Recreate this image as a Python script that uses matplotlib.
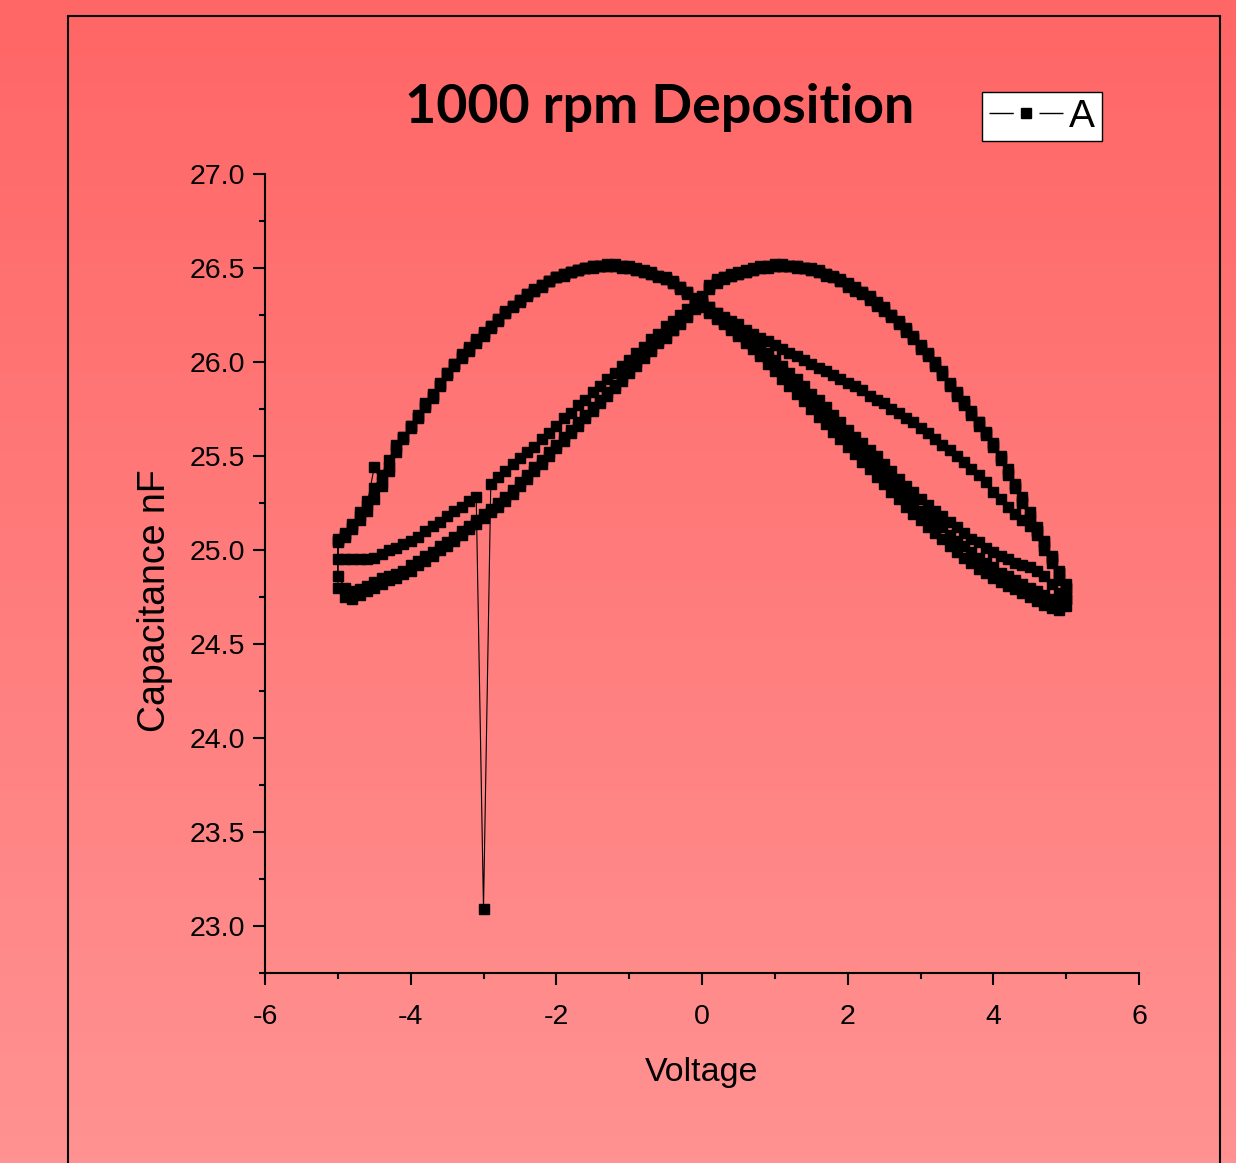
import matplotlib
matplotlib.use('Agg')
import matplotlib.pyplot as plt
from matplotlib.patches import Rectangle
from matplotlib.lines import Line2D
from matplotlib.ticker import MultipleLocator, FormatStrFormatter
import numpy as np

plt.rcParams['font.family'] = 'Liberation Sans'
plt.rcParams['axes.unicode_minus'] = False

# sweep voltages, -5 V .. +5 V in 0.1 V steps
volts = [-5.0, -4.9, -4.8, -4.7, -4.6, -4.5, -4.4, -4.3, -4.2, -4.1,
         -4.0, -3.9, -3.8, -3.7, -3.6, -3.5, -3.4, -3.3, -3.2, -3.1,
         -3.0, -2.9, -2.8, -2.7, -2.6, -2.5, -2.4, -2.3, -2.2, -2.1,
         -2.0, -1.9, -1.8, -1.7, -1.6, -1.5, -1.4, -1.3, -1.2, -1.1,
         -1.0, -0.9, -0.8, -0.7, -0.6, -0.5, -0.4, -0.3, -0.2, -0.1,
         0.0, 0.1, 0.2, 0.3, 0.4, 0.5, 0.6, 0.7, 0.8, 0.9,
         1.0, 1.1, 1.2, 1.3, 1.4, 1.5, 1.6, 1.7, 1.8, 1.9,
         2.0, 2.1, 2.2, 2.3, 2.4, 2.5, 2.6, 2.7, 2.8, 2.9,
         3.0, 3.1, 3.2, 3.3, 3.4, 3.5, 3.6, 3.7, 3.8, 3.9,
         4.0, 4.1, 4.2, 4.3, 4.4, 4.5, 4.6, 4.7, 4.8, 4.9, 5.0]

# first sweep 0 -> +5 V
cap_s0 = [26.31, 26.29, 26.26, 26.24, 26.22, 26.20, 26.17, 26.15, 26.13, 26.11,
          26.09, 26.07, 26.05, 26.03, 26.01, 25.99, 25.97, 25.95, 25.93, 25.91,
          25.89, 25.87, 25.85, 25.82, 25.80, 25.78, 25.75, 25.73, 25.70, 25.68,
          25.65, 25.62, 25.59, 25.56, 25.53, 25.50, 25.47, 25.43, 25.40, 25.36,
          25.31, 25.27, 25.23, 25.19, 25.16, 25.13, 25.10, 25.04, 24.96, 24.88, 24.80]

# reverse sweeps (+5 -> -5): low branch 5.0 .. -0.1, then arc -0.2 .. -5.0
rev_low_1 = [24.76, 24.73, 24.74, 24.76, 24.78, 24.80, 24.82, 24.84, 24.86, 24.88,
             24.91, 24.93, 24.96, 24.99, 25.02, 25.05, 25.08, 25.12, 25.15, 25.18,
             25.21, 25.25, 25.28, 25.32, 25.36, 25.40, 25.44, 25.48, 25.52, 25.55,
             25.59, 25.63, 25.67, 25.71, 25.75, 25.79, 25.83, 25.87, 25.91, 25.95,
             25.98, 26.02, 26.05, 26.09, 26.12, 26.15, 26.18, 26.21, 26.24, 26.27,
             26.30, 26.33]
rev_arc_1 = [26.37, 26.40, 26.42, 26.44, 26.46, 26.47, 26.48, 26.49, 26.50, 26.51,
             26.51, 26.51, 26.51, 26.51, 26.50, 26.49, 26.48, 26.47, 26.45, 26.43,
             26.41, 26.38, 26.36, 26.33, 26.30, 26.26, 26.23, 26.19, 26.15, 26.11,
             26.07, 26.03, 25.99, 25.94, 25.88, 25.82, 25.77, 25.71, 25.66, 25.60,
             25.54, 25.44, 25.36, 25.44, 25.24, 25.18, 25.12, 25.08, 25.05]

rev_low_2 = [24.74, 24.77, 24.82, 24.86, 24.89, 24.91, 24.92, 24.93, 24.95, 24.97,
             24.99, 25.01, 25.04, 25.06, 25.09, 25.12, 25.15, 25.18, 25.21, 25.24,
             25.27, 25.31, 25.34, 25.38, 25.42, 25.46, 25.50, 25.53, 25.57, 25.60,
             25.64, 25.68, 25.72, 25.76, 25.80, 25.83, 25.87, 25.91, 25.94, 25.98,
             26.01, 26.05, 26.08, 26.11, 26.14, 26.17, 26.20, 26.23, 26.26, 26.29,
             26.31, 26.34]
rev_arc_2 = [26.36, 26.39, 26.42, 26.44, 26.45, 26.47, 26.48, 26.49, 26.50, 26.50,
             26.51, 26.51, 26.51, 26.50, 26.50, 26.49, 26.48, 26.46, 26.45, 26.43,
             26.40, 26.38, 26.35, 26.32, 26.29, 26.26, 26.22, 26.18, 26.14, 26.10,
             26.06, 26.02, 25.98, 25.93, 25.87, 25.81, 25.76, 25.70, 25.65, 25.59,
             25.56, 25.48, 25.40, 25.33, 25.26, 25.20, 25.14, 25.09, 25.06]

rev_low_3 = [24.70, 24.68, 24.69, 24.71, 24.73, 24.75, 24.77, 24.79, 24.81, 24.83,
             24.85, 24.88, 24.90, 24.93, 24.96, 24.99, 25.02, 25.06, 25.09, 25.12,
             25.16, 25.19, 25.23, 25.27, 25.31, 25.35, 25.39, 25.43, 25.47, 25.51,
             25.55, 25.59, 25.63, 25.67, 25.71, 25.75, 25.79, 25.83, 25.87, 25.91,
             25.95, 25.99, 26.03, 26.07, 26.10, 26.14, 26.17, 26.20, 26.23, 26.26,
             26.29, 26.32]
rev_arc_3 = [26.37, 26.40, 26.43, 26.45, 26.46, 26.48, 26.49, 26.50, 26.51, 26.51,
             26.52, 26.52, 26.51, 26.51, 26.50, 26.49, 26.48, 26.47, 26.45, 26.43,
             26.41, 26.39, 26.36, 26.33, 26.30, 26.27, 26.23, 26.19, 26.16, 26.12,
             26.08, 26.04, 25.99, 25.94, 25.89, 25.83, 25.78, 25.72, 25.66, 25.60,
             25.52, 25.42, 25.34, 25.27, 25.21, 25.16, 25.11, 25.07, 25.04]

# forward sweeps (-5 -> +5): low branch -5.0 .. 0.0, then arc 0.1 .. 5.0
fwd_low_1 = [24.86, 24.80, 24.78, 24.79, 24.81, 24.83, 24.85, 24.86, 24.87, 24.89,
             24.92, 24.94, 24.97, 24.99, 25.02, 25.04, 25.07, 25.10, 25.13, 25.16,
             25.19, 25.22, 25.25, 25.28, 25.32, 25.36, 25.40, 25.44, 25.48, 25.52,
             25.56, 25.60, 25.64, 25.68, 25.72, 25.76, 25.80, 25.84, 25.88, 25.92,
             25.96, 26.00, 26.04, 26.07, 26.11, 26.14, 26.17, 26.21, 26.25, 26.29,
             26.33]
fwd_arc_1 = [26.40, 26.43, 26.45, 26.46, 26.47, 26.48, 26.49, 26.50, 26.51, 26.51,
             26.51, 26.51, 26.51, 26.50, 26.49, 26.48, 26.47, 26.45, 26.43, 26.41,
             26.39, 26.37, 26.34, 26.31, 26.28, 26.25, 26.21, 26.17, 26.13, 26.08,
             26.04, 25.99, 25.94, 25.88, 25.83, 25.78, 25.73, 25.68, 25.62, 25.56,
             25.49, 25.41, 25.34, 25.26, 25.18, 25.10, 25.02, 24.95, 24.88, 24.80]

fwd_low_2 = [24.95, 24.95, 24.95, 24.95, 24.95, 24.96, 24.98, 25.00, 25.01, 25.03,
             25.05, 25.07, 25.10, 25.13, 25.15, 25.18, 25.21, 25.23, 25.26, 25.28,
             23.09, 25.35, 25.39, 25.42, 25.46, 25.49, 25.52, 25.55, 25.59, 25.62,
             25.66, 25.70, 25.73, 25.77, 25.80, 25.84, 25.87, 25.91, 25.94, 25.98,
             26.01, 26.05, 26.08, 26.12, 26.15, 26.19, 26.22, 26.25, 26.28, 26.31,
             26.35]
fwd_arc_2 = [26.41, 26.44, 26.45, 26.47, 26.48, 26.49, 26.50, 26.51, 26.51, 26.52,
             26.52, 26.51, 26.51, 26.50, 26.50, 26.49, 26.47, 26.46, 26.44, 26.42,
             26.40, 26.37, 26.35, 26.32, 26.29, 26.25, 26.22, 26.18, 26.14, 26.09,
             26.05, 26.00, 25.95, 25.89, 25.84, 25.79, 25.74, 25.68, 25.63, 25.57,
             25.50, 25.43, 25.35, 25.28, 25.20, 25.12, 25.05, 24.97, 24.89, 24.82]

fwd_low_3 = [24.80, 24.75, 24.74, 24.76, 24.78, 24.80, 24.82, 24.84, 24.85, 24.87,
             24.89, 24.92, 24.94, 24.97, 25.00, 25.02, 25.05, 25.08, 25.11, 25.14,
             25.17, 25.20, 25.23, 25.26, 25.30, 25.34, 25.38, 25.42, 25.46, 25.50,
             25.54, 25.58, 25.62, 25.66, 25.70, 25.74, 25.78, 25.82, 25.86, 25.90,
             25.94, 25.98, 26.02, 26.06, 26.10, 26.13, 26.17, 26.20, 26.24, 26.28,
             26.32]
fwd_arc_3 = [26.39, 26.42, 26.44, 26.46, 26.47, 26.48, 26.49, 26.50, 26.50, 26.51,
             26.51, 26.51, 26.50, 26.50, 26.49, 26.48, 26.46, 26.45, 26.43, 26.40,
             26.38, 26.36, 26.33, 26.30, 26.27, 26.24, 26.20, 26.16, 26.12, 26.07,
             26.03, 25.98, 25.93, 25.87, 25.82, 25.77, 25.72, 25.66, 25.61, 25.55,
             25.48, 25.40, 25.33, 25.25, 25.16, 25.08, 25.00, 24.93, 24.84, 24.74]

up = volts
down = volts[::-1]
first = volts[50:]

xs = first + down + up + down + up + down + up
ys = (cap_s0
      + rev_low_1 + rev_arc_1 + fwd_low_1 + fwd_arc_1
      + rev_low_2 + rev_arc_2 + fwd_low_2 + fwd_arc_2
      + rev_low_3 + rev_arc_3 + fwd_low_3 + fwd_arc_3)

W, H = 1236, 1163
fig = plt.figure(figsize=(W / 100, H / 100), dpi=100)

# gradient background
bg = fig.add_axes([0, 0, 1, 1], zorder=-10)
top = np.array([255, 102, 102]) / 255.0
bot = np.array([255, 146, 146]) / 255.0
t = np.linspace(0, 1, 256)[:, None, None]
bg.imshow(top + (bot - top) * t, aspect='auto', extent=[0, 1, 0, 1], origin='upper')
bg.axis('off')

fig.patches.append(Rectangle((68 / W, -0.01), (1220 - 68) / W, 1.01 - 16 / H,
                             transform=fig.transFigure, fill=False,
                             ec='black', lw=1.5))

ax = fig.add_axes([265 / W, 1 - 973 / H, 874 / W, 799 / H])
ax.patch.set_alpha(0)

ax.plot(xs, ys, color='black', lw=0.8, marker='s', ms=6.8,
        mfc='black', mec='black')

ax.set_xlim(-6, 6)
ax.set_ylim(22.75, 27.0)
ax.set_xticks([-6, -4, -2, 0, 2, 4, 6])
ax.xaxis.set_minor_locator(MultipleLocator(1))
ax.set_yticks([23.0, 23.5, 24.0, 24.5, 25.0, 25.5, 26.0, 26.5, 27.0])
ax.yaxis.set_minor_locator(MultipleLocator(0.25))
ax.yaxis.set_major_formatter(FormatStrFormatter('%.1f'))

for s in ['top', 'right']:
    ax.spines[s].set_visible(False)
for s in ['left', 'bottom']:
    ax.spines[s].set_linewidth(1.5)

ax.tick_params(which='major', direction='out', length=8.5, width=1.5,
               labelsize=20.5, pad=6)
ax.tick_params(which='minor', direction='out', length=4.5, width=1.5)
ax.tick_params(axis='x', which='major', pad=14)

ax.set_xlabel('Voltage', fontsize=24.5, va='center')
ax.xaxis.set_label_coords(0.5, (973 - 1073) / 799)
ax.set_ylabel('Capacitance nF', fontsize=27, va='center')
ax.yaxis.set_label_coords((155 - 265) / 874, (973 - 601) / 799)

fig.text(660 / W, 1 - 107 / H, '1000 rpm Deposition', fontsize=38.7,
         fontweight='bold', family='Lato', ha='center', va='center')

# legend: line - marker - line
h_line = Line2D([], [], color='black', lw=1.0, dashes=(17.5, 18.5))
h_mark = Line2D([], [], color='black', lw=0, marker='s', ms=6.5)
leg = ax.legend([(h_line, h_mark)], ['A'], loc='upper left',
                bbox_to_anchor=(982 / W, 1 - 92 / H),
                bbox_transform=fig.transFigure, fontsize=28,
                frameon=True, fancybox=False, framealpha=1,
                edgecolor='black', handlelength=1.91, handletextpad=0.16,
                borderpad=0.17, borderaxespad=0)
leg.get_frame().set_linewidth(1.0)

fig.savefig('out.png', dpi=100)
